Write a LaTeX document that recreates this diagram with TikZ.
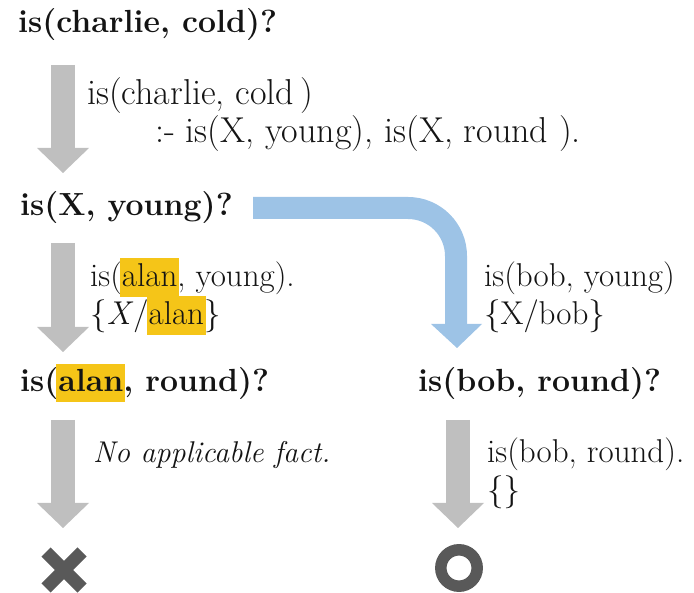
\documentclass[tikz,border=0pt]{standalone}
\usepackage{fontspec}
\usetikzlibrary{calc}
\definecolor{arrowgray}{RGB}{191,191,191}
\definecolor{flowblue}{RGB}{157,195,230}
\definecolor{markgray}{RGB}{89,89,89}
\definecolor{hly}{RGB}{245,197,24}
\definecolor{ink}{RGB}{20,20,20}
\newcommand{\hlt}[1]{\leavevmode\rlap{\hspace{-2pt}{\setlength{\fboxsep}{0pt}\colorbox{hly}{\rule[-0.3em]{0pt}{1.18em}\hspace{2pt}\phantom{#1}\hspace{2pt}}}}#1}
\newcommand{\blockarrow}[4]{%
  \draw[line width=24pt,#1] (#2) -- ($(#3)+(0,1)$);
  \fill[#1] ($(#3)+(-26,0)$) -- ($(#3)+(26,0)$) -- (#4) -- cycle;}
\begin{document}
\begin{tikzpicture}[x=1pt,y=-1pt,
  goal/.style={anchor=base west, inner sep=0pt, font=\bfseries\fontsize{32}{36}\selectfont, text=ink},
  note/.style={anchor=base west, inner sep=0pt, font=\fontsize{33}{38}\selectfont, text=ink},
  rulenote/.style={note, font=\fontsize{36}{38}\selectfont},
  failmark/.style={markgray, line width=13pt}]
\useasboundingbox (0,0) rectangle (694,593);

% text nodes
\node[goal] (g1) at (18,33) {is(charlie, cold)?};
\node[rulenote] (r1a) at (87,105) {is(charlie, cold\,)};
\node[rulenote] (r1b) at (155,143) {:- is(X, young), is(X, round ).};
\node[goal] (g2) at (20,216) {is(X, young)?};
\node[note] (f2a) at (90,287) {is(\hlt{alan}, young).};
\node[note] (f2b) at (90,325) {\{\textit{X}/\hlt{alan}\}};
\node[goal] (g3) at (20,392) {is(\hlt{alan}, round)?};
\node[note] (f3a) at (484,287) {is(bob, young)};
\node[note] (f3b) at (484,325) {\{X/bob\}};
\node[goal] (g4) at (418,392) {is(bob, round)?};
\node[note, font=\itshape\fontsize{30}{38}\selectfont] (nf) at (93,463) {No applicable fact.};
\node[note] (f4a) at (487,463) {is(bob, round).};
\node[note] (f4b) at (487,501) {\{\}};

% gray arrows
\coordinate (a1s) at (63,65);  \coordinate (a1h) at (63,148); \coordinate (a1t) at (63,173);
\coordinate (a2s) at (63,243); \coordinate (a2h) at (63,327); \coordinate (a2t) at (63,352);
\coordinate (a3s) at (63,420); \coordinate (a3h) at (63,503); \coordinate (a3t) at (63,528);
\coordinate (a4s) at (458,420); \coordinate (a4h) at (458,503); \coordinate (a4t) at (458,528);
\blockarrow{arrowgray}{a1s}{a1h}{a1t}
\blockarrow{arrowgray}{a2s}{a2h}{a2t}
\blockarrow{arrowgray}{a3s}{a3h}{a3t}
\blockarrow{arrowgray}{a4s}{a4h}{a4t}

% blue bent arrow
\coordinate (b0) at (253,208); \coordinate (bc) at (456,208);
\coordinate (bh) at (456,324); \coordinate (bt) at (457,348);
\draw[flowblue, line width=22pt, rounded corners=48pt] (b0) -- (bc) -- ($(bh)+(0,1)$);
\fill[flowblue] ($(bh)+(-25,0)$) -- ($(bh)+(26,0)$) -- (bt) -- cycle;

% fail / success marks
\coordinate (xc) at (64,570);
\draw[failmark] ($(xc)+(-18,-18)$) -- ($(xc)+(18,18)$);
\draw[failmark] ($(xc)+(18,-18)$) -- ($(xc)+(-18,18)$);
\coordinate (oc) at (459,568);
\draw[markgray, line width=11.5pt] (oc) circle[radius=18.2];
\end{tikzpicture}
\end{document}
